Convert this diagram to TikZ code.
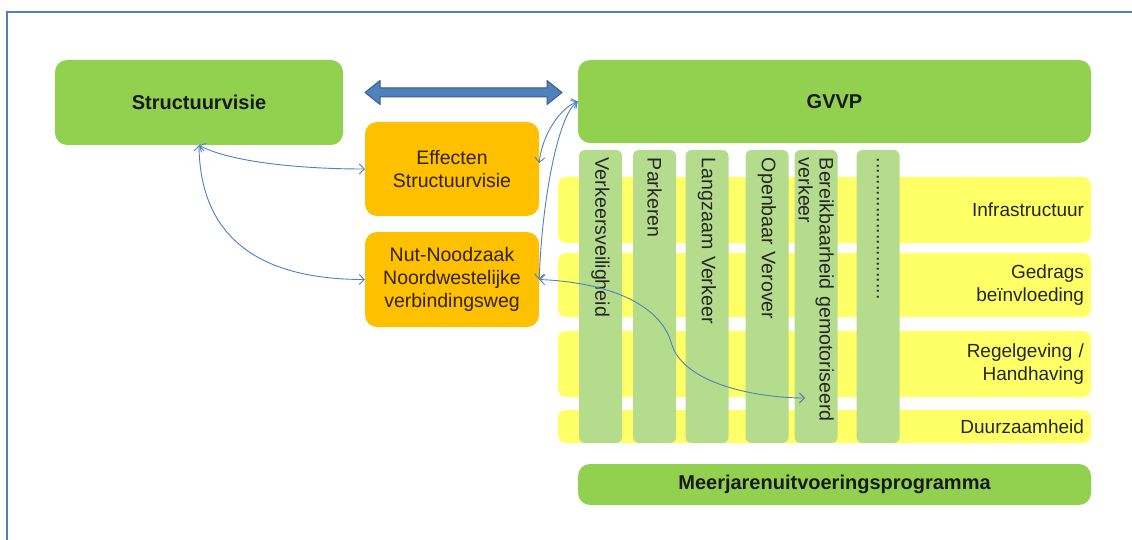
\documentclass[tikz,border=0pt]{standalone}
\usepackage{fontspec}
\setmainfont{Liberation Sans}
\usetikzlibrary{arrows.meta}
\definecolor{boxgreen}{RGB}{146,208,80}
\definecolor{colgreen}{RGB}{180,220,140}
\definecolor{rowyellow}{RGB}{255,255,102}
\definecolor{boxorange}{RGB}{255,192,0}
\definecolor{linkblue}{RGB}{79,129,189}
\definecolor{frameblue}{RGB}{79,129,189}
\definecolor{arrowedge}{RGB}{56,93,138}
\definecolor{orangetext}{RGB}{50,35,0}
\begin{document}
\begin{tikzpicture}[x=1pt,y=-1pt,
  greenbox/.style={fill=boxgreen, rounded corners=12pt, inner sep=0pt, align=center, font=\fontsize{20}{24}\selectfont\bfseries, text=black!90},
  orangebox/.style={fill=boxorange, rounded corners=12pt, inner sep=0pt, align=center, minimum width=174pt, font=\fontsize{19.5}{23.3}\selectfont, text=orangetext},
  rowbar/.style={fill=rowyellow, rounded corners=8pt, text width=519pt, inner xsep=7pt, inner ysep=0pt, align=right, font=\fontsize{19}{23}\selectfont, text=black!85},
  colbar/.style={fill=colgreen, rounded corners=6pt, rotate=-90, minimum height=43pt, text width=277pt, inner xsep=8pt, inner ysep=0pt, align=left, font=\fontsize{19.6}{21}\selectfont, text=black!85},
  conn/.style={draw=linkblue, line width=0.9pt, {Straight Barb[length=5pt,width=10pt]}-{Straight Barb[length=5pt,width=10pt]}},
  bigarrow/.style={fill=linkblue, draw=arrowedge, line width=1pt, line join=round},
  framestyle/.style={draw=frameblue, line width=2.5pt}
]
\useasboundingbox (0,0) rectangle (1132,540);
\fill[white] (0,0) rectangle (1132,540);
\draw[framestyle] (7,541) -- (7,12) -- (1133,12);

% yellow rows
\node[rowbar, minimum height=66pt] (r1) at (824.5,210) {Infrastructuur};
\node[rowbar, minimum height=64pt] (r2) at (824.5,285) {Gedrags\\beïnvloeding};
\node[rowbar, minimum height=66pt] (r3) at (824.5,364) {Regelgeving /\\Handhaving};
\node[rowbar, minimum height=33pt] (r4) at (824.5,426.5) {Duurzaamheid};

% green columns
\node[colbar] (c1) at (600.5,296.5) {Verkeersveiligheid};
\node[colbar] (c2) at (654.5,296.5) {Parkeren};
\node[colbar] (c3) at (707,296.5) {Langzaam Verkeer};
\node[colbar] (c4) at (767,296.5) {Openbaar Verover};
\node[colbar] (c5) at (816,296.5) {Bereikbaarheid gemotoriseerd\\verkeer};
\node[colbar] (c6) at (878,296.5) {..........................};

% boxes
\node[greenbox, minimum width=288pt, minimum height=85pt] (sv) at (199,102.5) {Structuurvisie};
\node[greenbox, minimum width=513pt, minimum height=83pt] (gvvp) at (834.5,101.5) {GVVP};
\node[greenbox, minimum width=513pt, minimum height=41pt] (mjp) at (834.5,484.5) {Meerjarenuitvoeringsprogramma};
\node[orangebox, minimum height=94pt] (eff) at (452,169) {Effecten\\Structuurvisie};
\node[orangebox, minimum height=95pt] (nut) at (452,279.5) {Nut-Noodzaak\\Noordwestelijke\\verbindingsweg};

% big double arrow
\path[bigarrow] (365,92.5) -- (380,80.5) -- (380,88) -- (547,88) -- (547,80.5) -- (562,92.5) -- (547,104.5) -- (547,97) -- (380,97) -- (380,104.5) -- cycle;

% connectors
\draw[conn] (sv.south) .. controls (230,162) and (300,169) .. (eff.west);
\draw[conn] (sv.south) .. controls (200,230) and (250,279.5) .. (nut.west);
\draw[conn] (gvvp.west) .. controls (560,108) and (542,135) .. ([yshift=6pt]eff.east);
\draw[conn] (gvvp.west) .. controls (558,115) and (542,200) .. (nut.east);
\coordinate (bk) at (805,398);
\draw[conn] (nut.east) .. controls (600,282) and (660,300) .. (672,345) .. controls (685,385) and (760,398) .. (bk);
\end{tikzpicture}
\end{document}
